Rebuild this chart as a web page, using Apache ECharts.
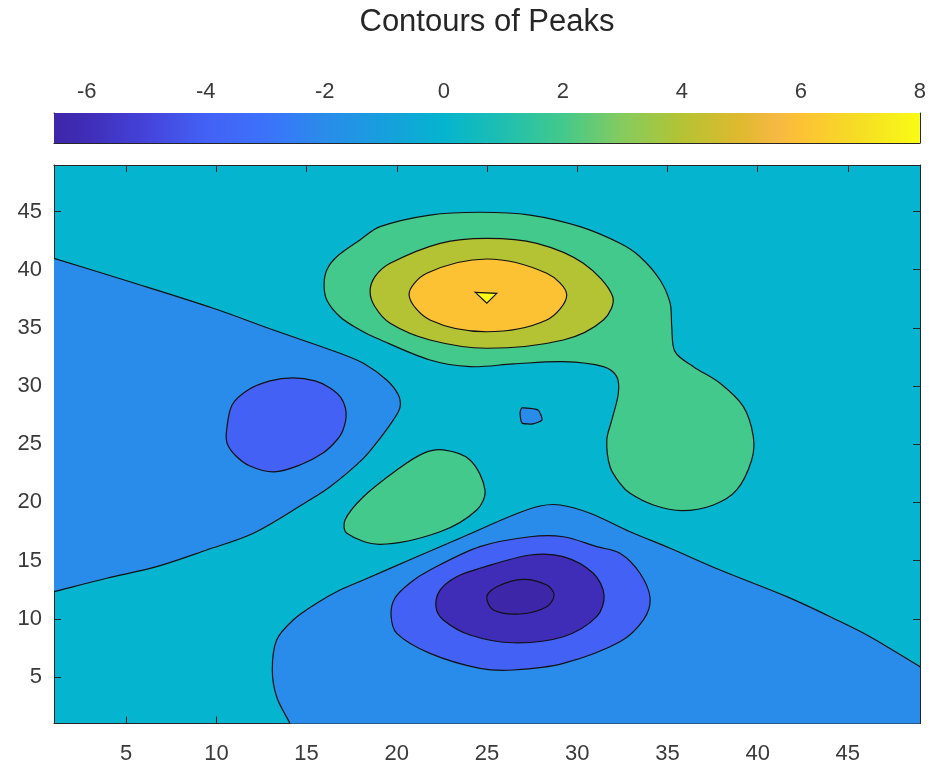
<!DOCTYPE html>
<html><head><meta charset="utf-8">
<script src="https://cdn.jsdelivr.net/npm/echarts@6/dist/echarts.min.js"></script>
<style>html,body{margin:0;padding:0;background:#fff}#c{width:929px;height:767px}</style>
</head><body><div id="c"></div>
<script>
// ---------- data ----------
const titleText = 'Contours of Peaks';
const xTicks = [5, 10, 15, 20, 25, 30, 35, 40, 45];
const yTicks = [5, 10, 15, 20, 25, 30, 35, 40, 45];
const cbTicks = [-6, -4, -2, 0, 2, 4, 6, 8];
const zMin = -6.55, zMax = 8.0;
const xRange = [1, 49], yRange = [1, 49];

// colormap (parula-like) anchor values and colours
const cmapValues = [-6.55, -6, -5, -4, -3, -2, -1, 0, 1, 2, 3, 4, 5, 5.6, 6, 7, 8];
const cmapColors = ['#3E26A8', '#3F2DB7', '#4543DA', '#4461F5', '#3C72FB', '#2A8CEA', '#179FDD', '#05B4CE',
  '#1EBFB0', '#43C98C', '#86CB5E', '#B4C334', '#E0B92E', '#F6B944', '#FDC234', '#F5DE25', '#F9FB14'];

// contour polygons, in data units (x, y)
// level 0, left open region (fill colour of level -2)
const c0Left = [[-3, 42.9], [-1, 41.94], [1, 40.98], [5.21, 38.97], [9.83, 36.69], [13.16, 34.82], [16.85, 32.82],
  [18.15, 31.96], [19.44, 30.52], [20.09, 29.23], [20.18, 28.2], [19.81, 27.09], [19.07, 25.51], [18.15, 23.79],
  [16.30, 21.35], [15.01, 20.06], [12.05, 17.35], [9.46, 15.91], [6.69, 14.48], [3.92, 13.48], [1, 12.33],
  [-1, 11.54], [-3, 10.75]];
// level -2 inside left region
const cM2Left = [[10.57, 26.23], [10.87, 28.37], [11.75, 29.66], [12.97, 30.44], [14.25, 30.70], [15.47, 30.44],
  [16.30, 29.84], [16.91, 28.98], [17.19, 27.69], [17.02, 26.23], [16.63, 25.28], [15.91, 24.25], [14.64, 23.22],
  [13.20, 22.62], [11.86, 23.13], [11.03, 24.08], [10.59, 25.11]];
// level 0, bottom open region
const c0Bottom = [[53, -3], [15.36, -3], [14.72, -1], [14.08, 1], [13.34, 3.30], [13.10, 5.60], [13.34, 8.18],
  [14.26, 9.90], [15.56, 11.33], [16.85, 12.47], [18.15, 13.33], [20.92, 15.20], [23.69, 17.05], [26.46, 18.92],
  [27.94, 19.69], [29.05, 19.78], [30.71, 19.07], [32.93, 17.48], [35.15, 16.06], [37.92, 14.19], [41.62, 11.90],
  [44.39, 9.90], [46.23, 8.46], [49, 5.88], [51, 4.02], [53, 2.16]];
// level -2 bottom
const cM2Bottom = [[19.68, 10.33], [19.90, 11.79], [20.73, 13.08], [21.84, 14.19], [24.61, 16.20], [27.39, 17.05],
  [29.23, 17.05], [31.08, 16.20], [32.37, 15.63], [33.48, 13.91], [34.04, 11.76], [33.67, 9.90], [32.37, 8.03],
  [29.23, 6.17], [26.46, 5.60], [24.61, 5.74], [21.84, 7.03], [20.00, 8.75]];
// level -4 bottom
const cM4 = [[22.17, 11.04], [22.40, 12.47], [23.32, 13.62], [24.61, 14.34], [27.39, 15.48], [29.23, 15.34],
  [30.89, 13.91], [31.49, 12.04], [31.08, 10.18], [29.23, 8.46], [26.46, 7.94], [24.06, 8.61], [22.58, 9.90]];
// level -6 bottom
const cM6 = [[24.99, 11.90], [25.54, 12.76], [27.01, 13.39], [28.31, 12.90], [28.72, 12.04], [28.31, 11.04],
  [26.83, 10.41], [25.35, 10.75]];
// level 2, top + right lobe
const c2Top = [[15.97, 38.69], [16.12, 39.98], [16.67, 41.12], [17.96, 42.56], [19.07, 43.70], [21.84, 44.70],
  [24.61, 44.94], [27.39, 44.70], [30.16, 43.70], [32.37, 42.27], [33.48, 41.12], [34.59, 39.12], [35.15, 37.12],
  [35.24, 35.10], [35.42, 32.96], [36.44, 31.67], [37.92, 30.24], [39.21, 28.23], [39.76, 25.65], [39.67, 23.65],
  [38.84, 21.07], [37.55, 19.78], [35.80, 19.29], [34.22, 19.78], [32.93, 20.78], [32.37, 21.64], [31.82, 23.07],
  [31.64, 25.37], [31.92, 27.09], [32.28, 29.38], [32.19, 30.81], [31.45, 31.67], [29.23, 32.10], [26.46, 31.90],
  [24.06, 31.67], [21.84, 32.24], [18.89, 34.11], [17.96, 34.82], [16.85, 35.96], [16.12, 37.40]];
// level 4
const c4 = [[18.52, 38.11], [18.79, 39.40], [19.63, 40.55], [22.40, 42.27], [24.99, 42.70], [27.76, 42.27],
  [30.34, 40.55], [31.97, 37.68], [31.45, 35.68], [29.23, 33.96], [24.99, 33.25], [21.84, 33.96], [19.63, 35.40],
  [18.79, 36.82]];
// level 6
const c6 = [[20.68, 37.83], [21.66, 39.69], [24.99, 40.92], [28.31, 39.69], [29.42, 37.83], [28.31, 35.68],
  [24.99, 34.67], [21.84, 35.68]];
// level 8 (small triangle)
const c8 = [[24.34, 38.06], [25.54, 37.97], [24.99, 37.12]];
// level 0 small island
const c0Small = [[26.94, 28.12], [27.83, 27.94], [28.05, 27.09], [27.55, 26.75], [26.94, 26.83], [26.83, 27.69]];
// level 2 small island
const c2Small = [[22.58, 24.51], [24.06, 23.65], [24.89, 21.07], [24.43, 19.35], [22.40, 17.48], [19.07, 16.40],
  [17.23, 17.35], [17.13, 18.49], [18.15, 20.49], [20.00, 22.79], [21.47, 24.22]];

// each polygon with the level whose colour fills it (lowest region uses zMin)
const contours = [
  { pts: c0Left, fillLevel: -2, smooth: 0.33 },
  { pts: cM2Left, fillLevel: -4, smooth: 0.33 },
  { pts: c0Bottom, fillLevel: -2, smooth: 0.33 },
  { pts: cM2Bottom, fillLevel: -4, smooth: 0.33 },
  { pts: cM4, fillLevel: -6, smooth: 0.33 },
  { pts: cM6, fillLevel: zMin, smooth: 0.33 },
  { pts: c2Top, fillLevel: 2, smooth: 0.33 },
  { pts: c4, fillLevel: 4, smooth: 0.33 },
  { pts: c6, fillLevel: 6, smooth: 0.33 },
  { pts: c8, fillLevel: 8, smooth: 0 },
  { pts: c0Small, fillLevel: -2, smooth: 0.2 },
  { pts: c2Small, fillLevel: 2, smooth: 0.33 }
];

// ---------- helpers ----------
function hexToRgb(h) { const n = parseInt(h.slice(1), 16); return [(n >> 16) & 255, (n >> 8) & 255, n & 255]; }
function colorAt(v) {
  if (v <= cmapValues[0]) return cmapColors[0];
  for (let i = 1; i < cmapValues.length; i++) {
    if (v <= cmapValues[i]) {
      const t = (v - cmapValues[i - 1]) / (cmapValues[i] - cmapValues[i - 1]);
      const a = hexToRgb(cmapColors[i - 1]), b = hexToRgb(cmapColors[i]);
      return 'rgb(' + a.map((c, k) => Math.round(c + (b[k] - c) * t)).join(',') + ')';
    }
  }
  return cmapColors[cmapColors.length - 1];
}

const FONT = '"Liberation Sans", Arial, Helvetica, sans-serif';
const AX = '#262626';
const LBL = '#3a3a3a';

const chart = echarts.init(document.getElementById('c'), null, { renderer: 'canvas' });

const contourSeries = contours.map(c => ({
  type: 'custom', xAxisIndex: 0, yAxisIndex: 0, clip: true, silent: true,
  data: c.pts, encode: { x: 0, y: 1 },
  renderItem: (params, api) => {
    if (params.dataIndex !== 0) return null;
    const pts = c.pts.map(p => api.coord(p));
    return {
      type: 'polygon',
      shape: { points: pts, smooth: c.smooth },
      style: { fill: colorAt(c.fillLevel), stroke: '#111', lineWidth: 1.2 }
    };
  }
}));

const cbStops = cmapValues.map((v, i) => ({ offset: (v - zMin) / (zMax - zMin), color: cmapColors[i] }));
const colorbarSeries = {
  type: 'custom', xAxisIndex: 2, yAxisIndex: 2, silent: true, clip: true,
  data: [[zMin, 0], [zMax, 1]], encode: { x: 0, y: 1 },
  renderItem: (params, api) => {
    if (params.dataIndex !== 0) return null;
    const p0 = api.coord([zMin, 1]);
    const p1 = api.coord([zMax, 0]);
    return {
      type: 'rect',
      shape: { x: p0[0], y: p0[1], width: p1[0] - p0[0], height: p1[1] - p0[1] },
      style: { fill: { type: 'linear', x: 0, y: 0, x2: 1, y2: 0, colorStops: cbStops } }
    };
  }
};

function mkAxis(extra) {
  return Object.assign({
    type: 'value', scale: true,
    splitLine: { show: false },
    axisLine: { show: true, onZero: false, lineStyle: { color: AX, width: 1 } },
    axisTick: { show: false },
    axisLabel: { show: false }
  }, extra);
}
const tickStyle = (vals) => ({ show: true, inside: true, length: 7, customValues: vals, lineStyle: { color: AX, width: 1 } });
const lblStyle = (vals, margin) => ({ show: true, customValues: vals, fontSize: 22, color: LBL, fontFamily: FONT, margin: margin });

const option = {
  animation: false,
  backgroundColor: '#ffffff',
  graphic: [{
    type: 'text', x: 487, y: 22,
    style: { text: titleText, textAlign: 'center', textVerticalAlign: 'middle', fontSize: 31, fill: '#262626', fontFamily: FONT }
  }],
  grid: [
    { left: 54, top: 165, right: 9, bottom: 43.5, show: true, backgroundColor: colorAt(0), borderWidth: 0 },
    { left: 54, top: 113, right: 9, height: 30, show: false }
  ],
  xAxis: [
    mkAxis({ gridIndex: 0, position: 'bottom', min: xRange[0], max: xRange[1], axisTick: tickStyle(xTicks), axisLabel: lblStyle(xTicks, 19) }),
    mkAxis({ gridIndex: 0, position: 'top', min: xRange[0], max: xRange[1], axisTick: tickStyle(xTicks) }),
    mkAxis({ gridIndex: 1, position: 'top', min: zMin, max: zMax, axisTick: tickStyle(cbTicks), axisLabel: lblStyle(cbTicks, 10) }),
    mkAxis({ gridIndex: 1, position: 'bottom', min: zMin, max: zMax })
  ],
  yAxis: [
    mkAxis({ gridIndex: 0, position: 'left', min: yRange[0], max: yRange[1], axisTick: tickStyle(yTicks), axisLabel: lblStyle(yTicks, 12) }),
    mkAxis({ gridIndex: 0, position: 'right', min: yRange[0], max: yRange[1], axisTick: tickStyle(yTicks) }),
    mkAxis({ gridIndex: 1, position: 'left', min: 0, max: 1 }),
    mkAxis({ gridIndex: 1, position: 'right', min: 0, max: 1 })
  ],
  series: contourSeries.concat([colorbarSeries])
};
chart.setOption(option);
</script>
</body></html>
